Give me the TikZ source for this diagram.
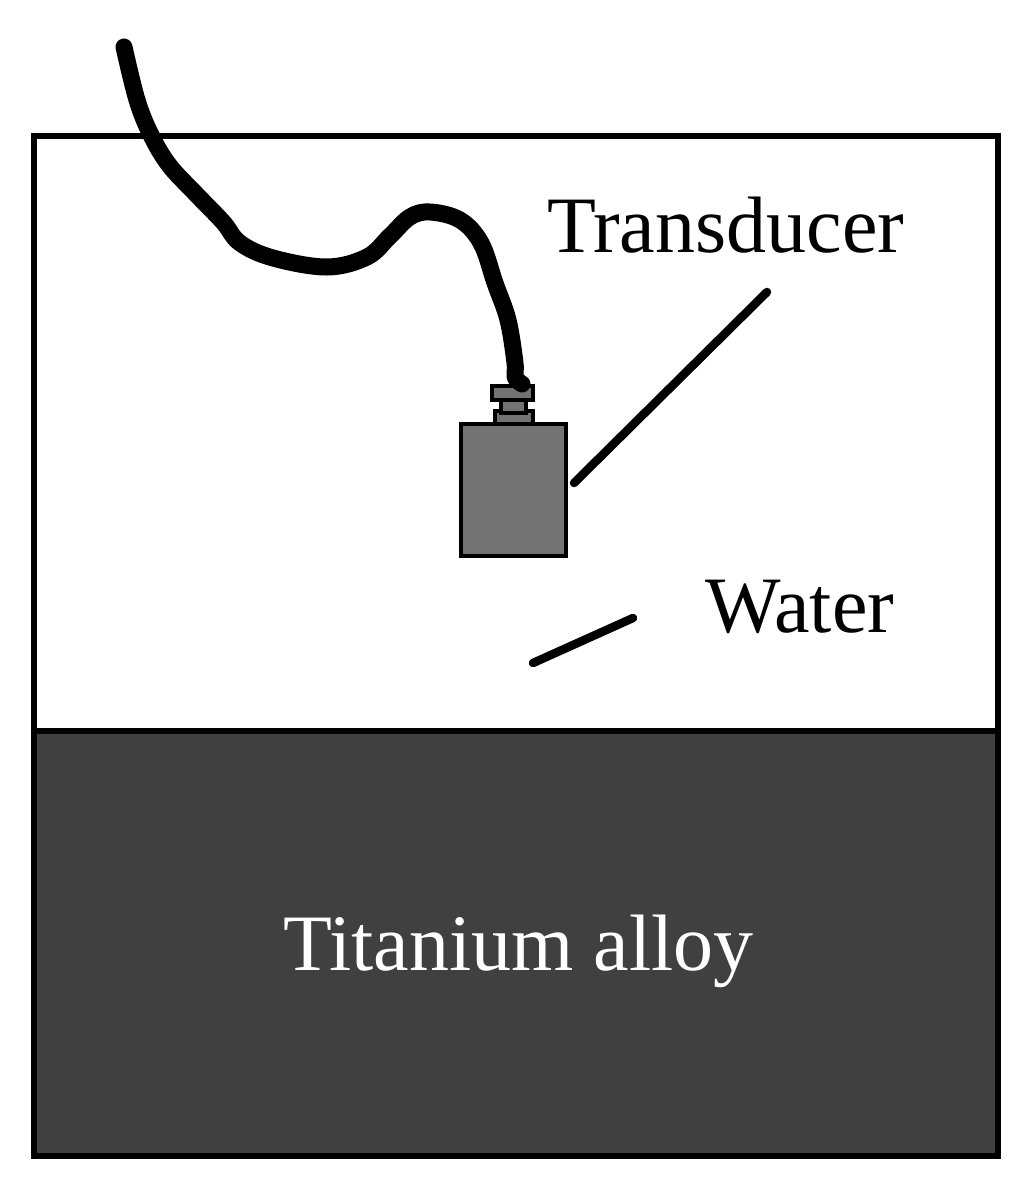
\documentclass[tikz,border=0pt]{standalone}
\usepackage{fontspec}
\setmainfont{Liberation Serif}
\definecolor{bodygray}{HTML}{737373}
\definecolor{alloygray}{HTML}{404040}
\tikzset{
  part/.style={draw=black,fill=bodygray,line width=4.5pt,sharp corners},
  leader/.style={draw=black,line width=8.5pt,line cap=round},
  cable/.style={draw=black,line width=17pt,line cap=round,line join=round},
  lbl/.style={inner sep=0pt,anchor=base west,font=\fontsize{80}{80}\selectfont},
}
\begin{document}
\begin{tikzpicture}[x=1pt,y=-1pt]
\useasboundingbox (0,0) rectangle (1035,1192);
\fill[white] (0,0) rectangle (1035,1192);
% tank and alloy
\path[fill=alloygray] (34,731) rectangle (998,1156);
\draw[line width=6.5pt,line join=miter] (34,136) rectangle (998,1156);
\draw[line width=6.5pt] (34,731) -- (998,731);
% transducer
\node[part,minimum width=105pt,minimum height=132pt,inner sep=0pt] (body) at (513.5,490) {};
\draw[part] (495,411) rectangle (533,424);
\draw[part] (501,400) rectangle (526,413);
\draw[part] (492,386) rectangle (533,400);
% cable
\draw[cable] plot[smooth,tension=0.6] coordinates {
 (124,47) (137,100) (151,135) (169,165) (195,193) (223,222) (240,243) (273,258)
 (327,267) (367,257) (390,236) (410,217) (430,212) (460,220) (481,243)
 (495,283) (508,320) (515,363) (515,377) (522,384)};
% labels
\node[lbl] (transducer) at (547,252) {Transducer};
\node[lbl] (water) at (705,632) {Water};
\node[lbl,text=white] (alloy) at (283,970) {Titanium alloy};
% leaders
\coordinate (tTop) at (767,292);
\coordinate (tEnd) at (574,483);
\coordinate (wTop) at (633,618);
\coordinate (wEnd) at (533,663);
\draw[leader] (tTop) -- (tEnd);
\draw[leader] (wTop) -- (wEnd);
\end{tikzpicture}
\end{document}
